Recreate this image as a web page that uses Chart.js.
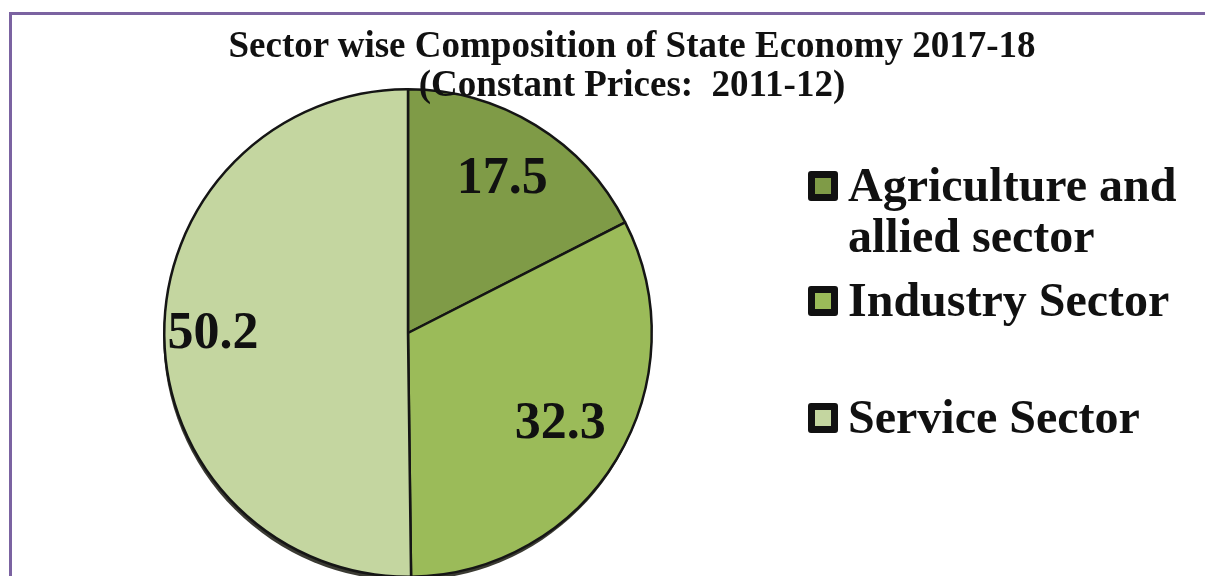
<!DOCTYPE html>
<html>
<head>
<meta charset="utf-8">
<script src="https://cdn.jsdelivr.net/npm/chart.js@4"></script>
<style>
  html, body { margin: 0; padding: 0; background: #fff; overflow: hidden; width: 1205px; height: 576px; }
  #frame { position: absolute; left: 9px; top: 12px; width: 1300px; height: 700px;
           border-top: 3px solid #7b63a1; border-left: 3px solid #7b63a1; }
  #wrap { position: absolute; left: 0; top: 0; width: 1205px; height: 600px; }
  #title { position: absolute; left: 182px; top: 25px; width: 900px; text-align: center; white-space: nowrap;
           font: bold 37px "Liberation Serif", "Times New Roman", serif; line-height: 39px; color: #111; z-index: 2; }
  #legend { position: absolute; left: 808px; top: 159px; font: bold 48px "Liberation Serif", "Times New Roman", serif;
            color: #111; line-height: 51px; white-space: nowrap; }
  .item { position: relative; padding-left: 40px; }
  .box { position: absolute; left: 0; width: 16px; height: 16px; border: 7px solid #111; border-radius: 3px; }
</style>
</head>
<body>
<div id="frame"></div>
<div id="wrap"><canvas id="pieChart"></canvas></div>
<div id="title">Sector wise Composition of State Economy 2017-18<br>(Constant Prices:&nbsp; 2011-12)</div>
<div id="legend"></div>
<script>
// dati
var settori = ["Agriculture and allied sector", "Industry Sector", "Service Sector"];
var righeLegenda = [["Agriculture and", "allied sector"], ["Industry Sector"], ["Service Sector"]];
var quote = [17.5, 32.3, 50.2];
var colori = ["#7f9b47", "#9bbb59", "#c4d6a0"];

// posizione delle etichette (frazione del raggio) e spazio sopra ogni voce di legenda
var raggioEtichetta = [0.74, 0.73, 0.8];
var spazioLegenda = [0, 13, 66];

var FONT = '"Liberation Serif", "Times New Roman", serif';

// legenda html
var legend = document.getElementById("legend");
settori.forEach(function (s, i) {
    var item = document.createElement("div");
    item.className = "item";
    item.style.marginTop = spazioLegenda[i] + "px";
    var box = document.createElement("span");
    box.className = "box";
    box.style.background = colori[i];
    box.style.top = "12px";
    item.appendChild(box);
    item.innerHTML += righeLegenda[i].join("<br>");
    legend.appendChild(item);
});

// ombra sotto la torta
var ombraPlugin = {
    id: "ombra",
    beforeDatasetsDraw: function (chart) {
        var arc = chart.getDatasetMeta(0).data[0];
        if (!arc) return;
        var ctx = chart.ctx;
        ctx.save();
        ctx.fillStyle = "#3b3b33";
        ctx.beginPath();
        ctx.arc(arc.x - 1, arc.y + 4, arc.outerRadius, 0, Math.PI * 2);
        ctx.fill();
        ctx.restore();
    }
};

// valori dentro le fette
var etichettePlugin = {
    id: "etichette",
    afterDatasetsDraw: function (chart) {
        var ctx = chart.ctx;
        var meta = chart.getDatasetMeta(0);
        ctx.save();
        ctx.font = "bold 52px " + FONT;
        ctx.fillStyle = "#111";
        ctx.textAlign = "center";
        ctx.textBaseline = "middle";
        meta.data.forEach(function (arc, i) {
            var a = (arc.startAngle + arc.endAngle) / 2;
            var r = arc.outerRadius * raggioEtichetta[i];
            ctx.fillText(quote[i].toFixed(1), arc.x + Math.cos(a) * r, arc.y + Math.sin(a) * r);
        });
        ctx.restore();
    }
};

new Chart(document.getElementById("pieChart"), {
    type: "pie",
    data: {
        labels: settori,
        datasets: [{
            data: quote,
            backgroundColor: colori,
            borderColor: "#151515",
            borderWidth: 2.5
        }]
    },
    options: {
        responsive: true,
        maintainAspectRatio: false,
        animation: false,
        layout: { padding: { left: 163, top: 88, right: 552, bottom: 22 } },
        plugins: {
            legend: { display: false },
            tooltip: { enabled: false }
        }
    },
    plugins: [ombraPlugin, etichettePlugin]
});
</script>
</body>
</html>
